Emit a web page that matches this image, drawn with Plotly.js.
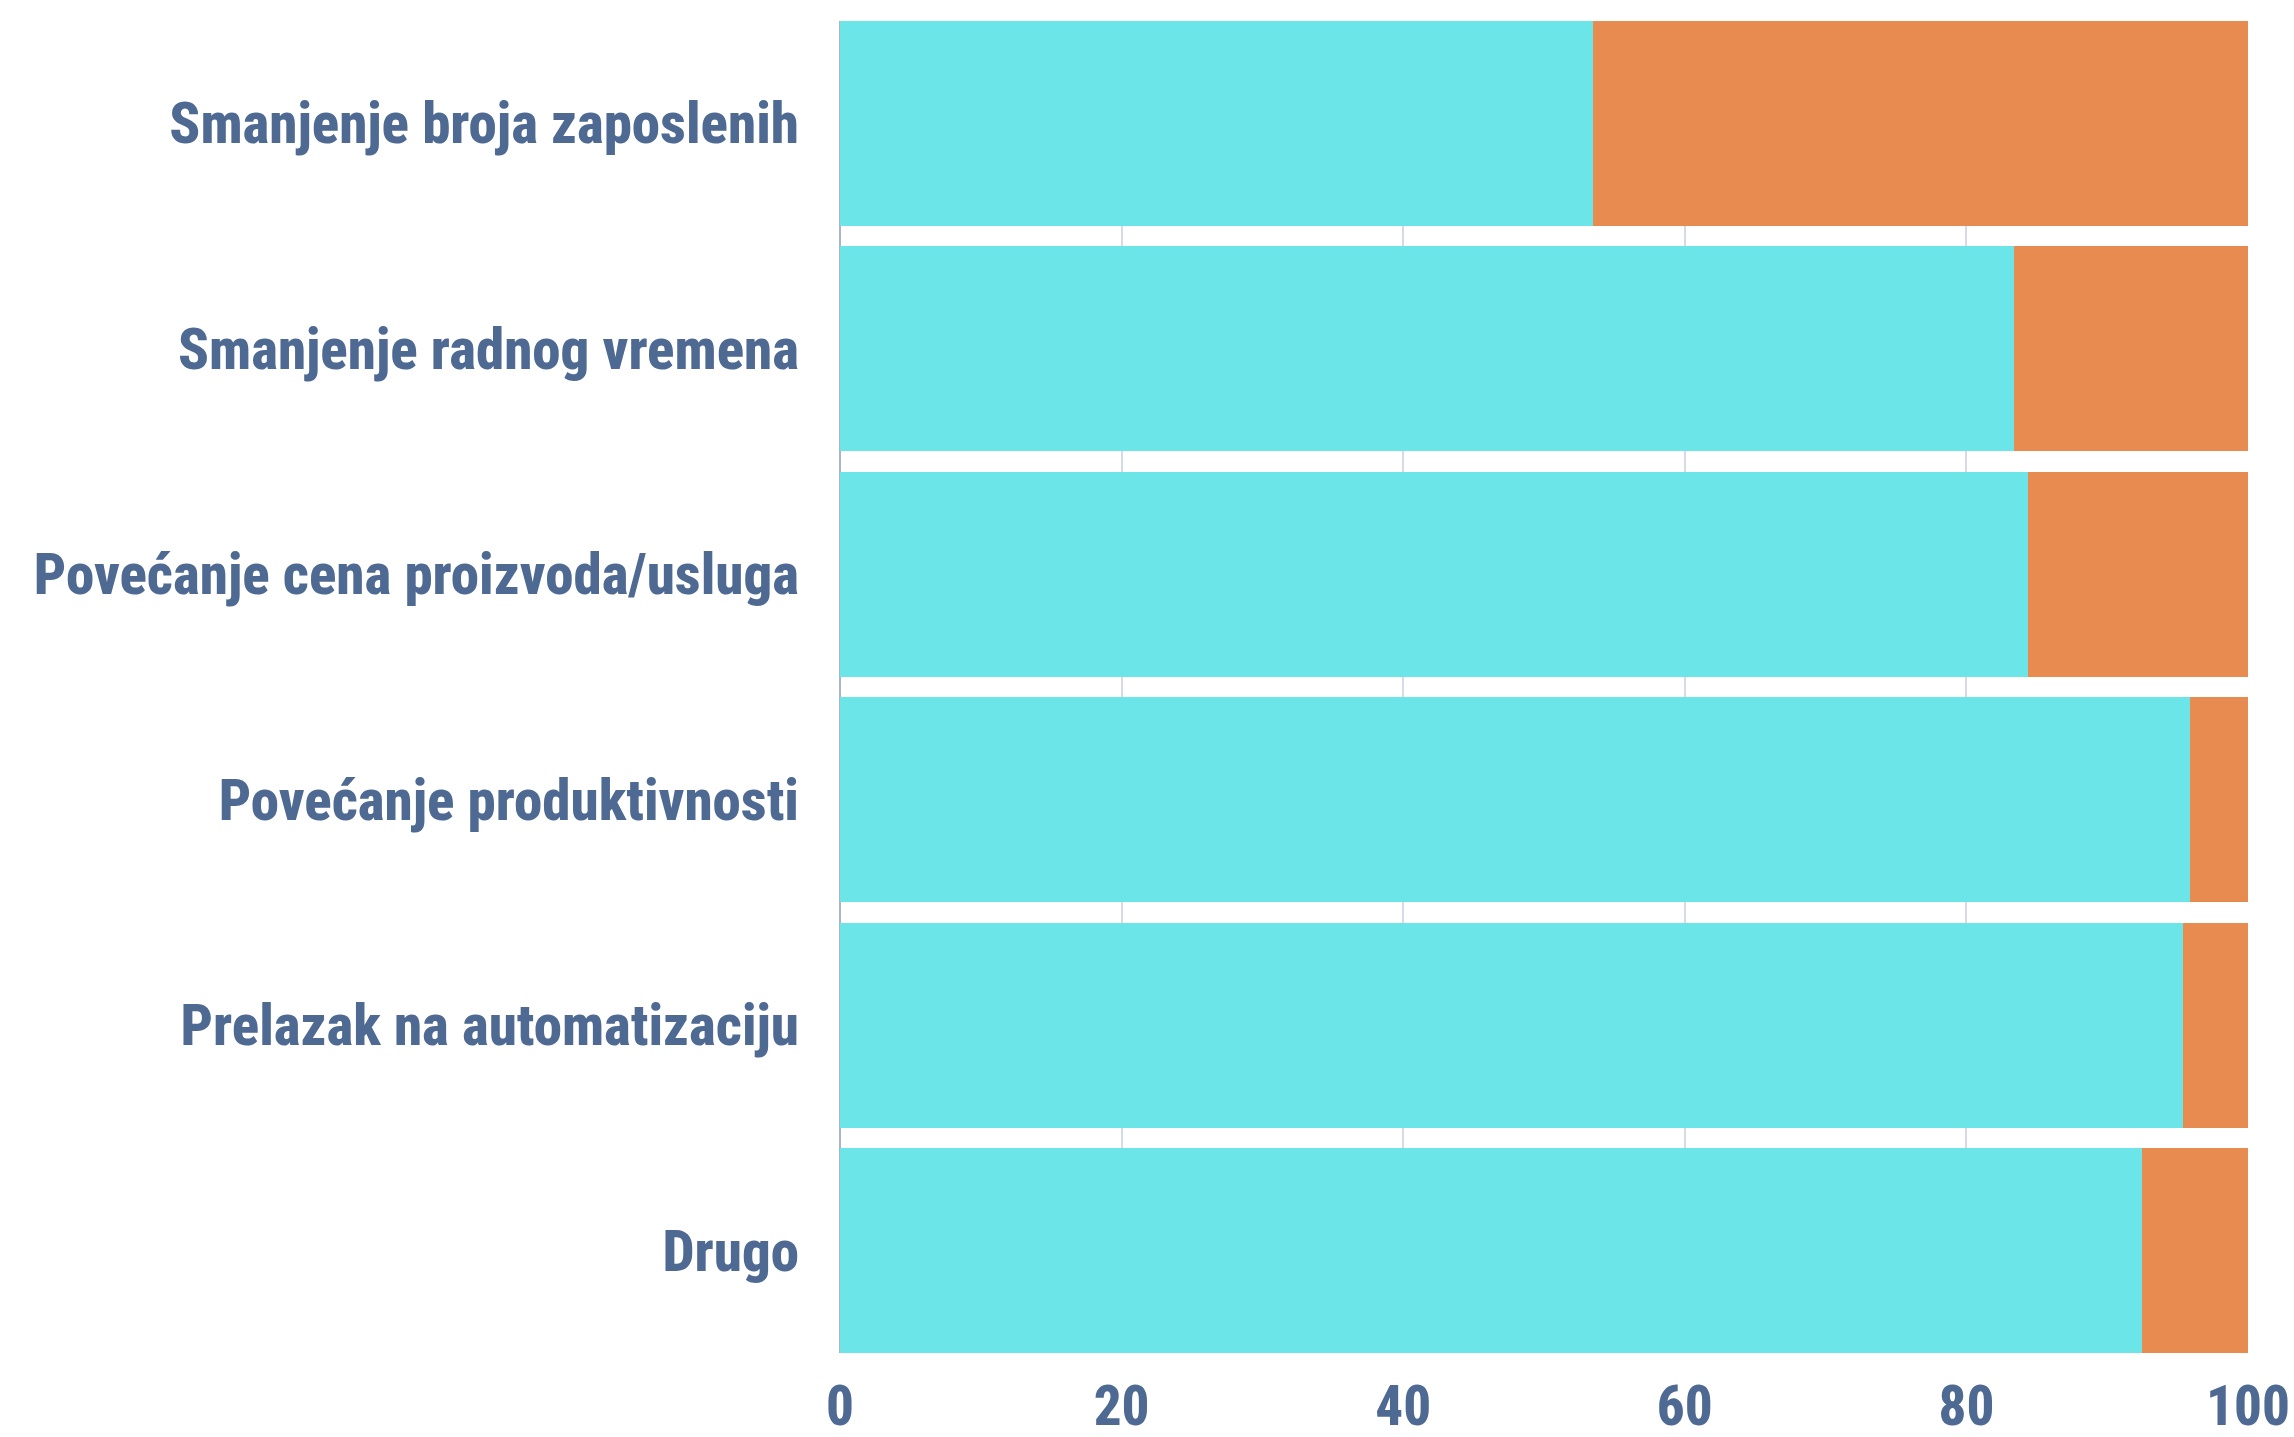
<!DOCTYPE html>
<html>
<head>
<meta charset="utf-8">
<script src="https://cdn.plot.ly/plotly-3.0.1.min.js"></script>
<style>
html,body{margin:0;padding:0;background:#fff;}
#chart{width:2294px;height:1437px;}
#chart .xtick text, #chart .ytick text { font-stretch: condensed !important; }
</style>
</head>
<body>
<div id="chart"></div>
<script>
const categories = [
  "Smanjenje broja zaposlenih",
  "Smanjenje radnog vremena",
  "Povećanje cena proizvoda/usluga",
  "Povećanje produktivnosti",
  "Prelazak na automatizaciju",
  "Drugo"
];
const seriesA = [53.5, 83.4, 84.4, 95.9, 95.4, 92.5];
const seriesB = [46.5, 16.6, 15.6, 4.1, 4.6, 7.5];
const xTicks = [0, 20, 40, 60, 80, 100];

const textColor = "#4e6a93";
const fontFam = "Roboto, sans-serif";

const traces = [
  {type: "bar", orientation: "h", y: categories, x: seriesA, marker: {color: "#6ce5e8"}, hoverinfo: "none"},
  {type: "bar", orientation: "h", y: categories, x: seriesB, marker: {color: "#e88b51"}, hoverinfo: "none"}
];

const layout = {
  width: 2294, height: 1437,
  barmode: "stack",
  bargap: 0.091,
  showlegend: false,
  paper_bgcolor: "#ffffff",
  plot_bgcolor: "#ffffff",
  margin: {l: 840, r: 46, t: 21, b: 84, pad: 0},
  xaxis: {
    range: [0, 100],
    tickvals: xTicks,
    ticktext: xTicks.map(String),
    showgrid: true, gridcolor: "#d5dae6", gridwidth: 2,
    zeroline: true, zerolinecolor: "#aab3c8", zerolinewidth: 2,
    showline: false, ticks: "",
    ticklabelstandoff: 16,
    ticklabeloverflow: "allow",
    tickfont: {family: fontFam, size: 55, color: textColor, weight: 800},
    fixedrange: true
  },
  yaxis: {
    type: "category",
    range: [5.4545, -0.4545],
    showgrid: false, zeroline: false, showline: false, ticks: "",
    ticklabelstandoff: 40,
    ticklabeloverflow: "allow",
    tickfont: {family: fontFam, size: 57, color: textColor, weight: 800},
    fixedrange: true
  }
};

Plotly.newPlot("chart", traces, layout, {displayModeBar: false, staticPlot: true});
</script>
</body>
</html>
